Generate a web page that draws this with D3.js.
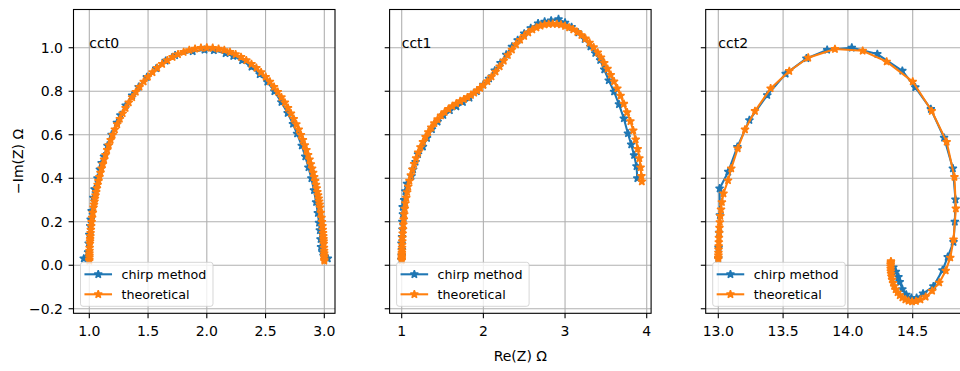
<!DOCTYPE html>
<html>
<head>
<meta charset="utf-8">
<script src="https://cdn.jsdelivr.net/npm/d3@7"></script>
<style>
  html, body { margin: 0; padding: 0; background: #ffffff; }
  svg { display: block; font-family: "DejaVu Sans", sans-serif; }
</style>
</head>
<body>
<svg id="chart" width="960" height="371"></svg>
<script>
// ---- chart content ----
const circuits = ["cct0", "cct1", "cct2"];
const seriesNames = ["chirp method", "theoretical"];
const xAxisLabel = "Re(Z) Ω";
const yAxisLabel = "−Im(Z) Ω";

// circuit name placed at (re, im)
const annotationRe = [1.0, 1.0, 13.0];
const annotationIm = [1.0, 1.0, 1.0];

const yTicks = [-0.2, 0.0, 0.2, 0.4, 0.6, 0.8, 1.0];
const yTickLabels = ["−0.2", "0.0", "0.2", "0.4", "0.6", "0.8", "1.0"];

const cct0XTicks = [1.0, 1.5, 2.0, 2.5, 3.0];
const cct0XTickLabels = ["1.0", "1.5", "2.0", "2.5", "3.0"];
const cct1XTicks = [1, 2, 3, 4];
const cct1XTickLabels = ["1", "2", "3", "4"];
const cct2XTicks = [13.0, 13.5, 14.0, 14.5];
const cct2XTickLabels = ["13.0", "13.5", "14.0", "14.5"];

// ---- cct0 ----
const cct0ChirpRe = [0.953,0.990,0.995,1.000,1.008,1.012,1.020,1.035,1.045,1.070,1.090,1.105,1.125,1.155,1.190,1.235,1.265,1.310,1.365,1.420,1.490,1.570,1.650,1.730,1.880,1.980,2.060,2.160,2.225,2.300,2.380,2.450,2.515,2.575,2.635,2.688,2.733,2.768,2.808,2.838,2.865,2.890,2.912,2.930,2.945,2.955,2.962,2.968,2.972,2.985,2.995,3.030];
const cct0ChirpIm = [0.031,0.060,0.100,0.140,0.180,0.210,0.250,0.310,0.350,0.400,0.440,0.470,0.500,0.550,0.600,0.655,0.690,0.735,0.780,0.820,0.865,0.905,0.940,0.965,0.983,0.990,0.988,0.974,0.962,0.942,0.912,0.878,0.843,0.800,0.750,0.700,0.650,0.605,0.550,0.500,0.450,0.400,0.345,0.290,0.240,0.195,0.161,0.120,0.084,0.060,0.045,0.031];

const cct0TheoryRe = [1.000,1.000,1.001,1.001,1.001,1.002,1.003,1.005,1.006,1.007,1.009,1.011,1.013,1.016,1.020,1.024,1.030,
  1.036,1.040,1.044,1.048,1.053,1.059,1.065,1.071,1.078,1.086,1.095,1.104,1.115,1.126,1.138,1.152,1.166,1.182,1.199,1.218,
  1.238,1.260,1.284,1.309,1.336,1.365,1.396,1.428,1.463,1.499,1.538,1.578,1.620,1.664,1.709,1.755,1.803,1.851,1.900,1.950,
  2.000,
  2.050,2.100,2.149,2.197,2.245,2.291,2.336,2.380,2.422,2.462,2.501,2.537,2.572,2.604,2.635,2.664,2.691,2.716,2.740,2.762,
  2.782,2.801,2.818,2.834,2.848,2.862,2.874,2.885,2.896,2.905,2.914,2.922,2.929,2.935,2.941,2.947,2.952,2.956,2.960,2.964,
  2.970,2.976,2.980,2.984,2.987,2.989,2.991,2.993,2.994,2.995,2.997,2.998,2.999,2.999,2.999,3.000,3.000];
const cct0TheoryIm = [0.020,0.027,0.037,0.045,0.055,0.067,0.081,0.099,0.110,0.121,0.134,0.148,0.163,0.180,0.199,0.219,0.241,
  0.266,0.279,0.293,0.307,0.322,0.337,0.354,0.370,0.388,0.406,0.425,0.445,0.465,0.486,0.507,0.530,0.552,0.576,0.599,0.624,
  0.648,0.673,0.698,0.723,0.748,0.772,0.797,0.820,0.844,0.866,0.887,0.907,0.925,0.942,0.957,0.970,0.980,0.989,0.995,0.999,
  1.000,
  0.999,0.995,0.989,0.980,0.970,0.957,0.942,0.925,0.907,0.887,0.866,0.844,0.820,0.797,0.772,0.748,0.723,0.698,0.673,0.648,
  0.624,0.599,0.576,0.552,0.530,0.507,0.486,0.465,0.445,0.425,0.406,0.388,0.370,0.354,0.337,0.322,0.307,0.293,0.279,0.266,
  0.241,0.219,0.199,0.180,0.163,0.148,0.134,0.121,0.110,0.099,0.081,0.067,0.055,0.045,0.037,0.027,0.020];

// ---- cct1 ----
const cct1ChirpRe = [0.995,1.000,1.002,0.998,1.004,1.010,1.008,1.015,1.012,1.030,1.045,1.065,1.120,1.140,1.170,1.200,1.260,1.310,1.370,1.440,
  1.510,1.590,1.670,1.750,1.830,1.920,2.000,2.070,2.140,2.210,2.280,2.350,2.420,2.500,2.580,2.670,2.750,2.830,2.920,3.000,
  3.080,3.160,3.240,3.310,3.370,3.430,3.480,3.535,3.600,3.660,3.720,3.770,3.810,3.845,3.875,3.885];
const cct1ChirpIm = [0.025,0.045,0.070,0.100,0.130,0.165,0.200,0.235,0.268,0.300,0.340,0.375,0.410,0.440,0.475,0.510,0.545,0.585,0.625,0.660,
  0.690,0.712,0.730,0.750,0.770,0.800,0.830,0.858,0.895,0.930,0.968,1.005,1.035,1.065,1.090,1.112,1.120,1.125,1.131,1.115,
  1.095,1.070,1.040,1.005,0.975,0.943,0.900,0.850,0.798,0.740,0.675,0.606,0.555,0.506,0.455,0.400];

const cct1TheoryRe = [1.000,1.000,1.001,1.001,1.001,1.002,1.003,1.004,1.005,1.007,1.009,1.012,1.016,1.020,1.025,1.031,
  1.038,1.046,1.056,1.067,1.080,1.095,1.112,1.131,1.152,1.176,1.202,1.230,1.260,1.292,1.326,1.362,1.400,1.440,1.482,1.526,
  1.572,1.620,1.668,1.716,1.762,1.806,1.848,1.888,1.926,1.962,
  2.000,2.050,2.100,2.150,2.200,2.250,2.300,2.350,2.400,2.450,2.500,2.550,2.600,2.650,2.700,2.750,2.800,2.850,2.900,2.950,
  3.000,3.050,3.100,3.150,3.200,3.250,3.300,3.350,3.400,
  3.440,3.480,3.520,3.560,3.600,3.640,3.680,3.720,3.760,3.800,
  3.835,3.865,3.890,3.910,3.925,3.935,3.940];
const cct1TheoryIm = [0.022,0.027,0.033,0.040,0.048,0.057,0.068,0.080,0.094,0.110,0.127,0.146,0.166,0.188,0.211,0.235,
  0.260,0.285,0.310,0.336,0.362,0.388,0.414,0.440,0.466,0.492,0.518,0.543,0.567,0.590,0.612,0.633,0.653,0.671,0.688,0.704,
  0.718,0.731,0.743,0.754,0.763,0.772,0.782,0.793,0.803,0.815,
  0.828,0.846,0.867,0.890,0.914,0.940,0.966,0.991,1.015,1.036,1.054,1.070,1.083,1.093,1.101,1.106,1.109,1.110,1.109,1.106,
  1.100,1.093,1.084,1.072,1.058,1.042,1.023,1.002,0.978,
  0.955,0.930,0.903,0.875,0.845,0.813,0.779,0.742,0.703,0.662,
  0.620,0.578,0.535,0.492,0.450,0.410,0.385];

// ---- cct2 ----
const cct2ChirpRe = [13.000,13.002,13.006,13.012,13.010,13.077,13.147,13.240,13.378,13.520,13.680,13.840,14.030,14.227,14.420,
  14.520,14.640,14.742,14.810,14.830,14.825,14.815,14.770,14.730,14.660,14.580,14.530,14.490,14.450,14.420,14.400,14.390,14.370,14.350];
const cct2ChirpIm = [0.032,0.080,0.150,0.230,0.353,0.430,0.544,0.667,0.782,0.880,0.951,0.990,1.000,0.971,0.894,
  0.818,0.718,0.586,0.445,0.302,0.200,0.107,0.038,-0.023,-0.097,-0.130,-0.150,-0.150,-0.135,-0.110,-0.077,-0.054,-0.030,-0.010];

const cct2TheoryRe = [13.000,13.000,13.001,13.001,13.002,13.003,13.004,13.005,13.007,13.009,13.012,13.016,13.021,13.028,13.040,
  13.075,13.100,13.150,13.206,13.283,13.404,13.548,13.694,13.900,14.114,14.299,14.500,14.647,14.762,14.822,14.833,14.815,
  14.790,14.755,14.705,14.650,14.600,14.560,14.525,14.495,14.468,14.443,14.420,14.400,14.383,14.368,14.357,14.348,14.341,
  14.336,14.333,14.331,14.330,14.330,14.330,14.331,14.332];
const cct2TheoryIm = [0.028,0.036,0.046,0.058,0.072,0.088,0.106,0.126,0.148,0.172,0.198,0.226,0.256,0.290,0.330,
  0.390,0.445,0.537,0.624,0.709,0.813,0.893,0.954,0.994,0.986,0.936,0.844,0.709,0.567,0.406,0.261,0.118,
  0.035,-0.025,-0.080,-0.118,-0.145,-0.158,-0.165,-0.167,-0.164,-0.158,-0.149,-0.138,-0.125,-0.111,-0.096,-0.081,-0.066,
  -0.052,-0.039,-0.027,-0.016,-0.006,0.003,0.011,0.018];

// ---- layout ----
const colors = ["#1f77b4", "#ff7f0e"];
const plotTop = 9.5, plotBottom = 313.3, plotWidth = 261.5;
const panels = [
  { left: 73.5,  xDomain: [0.8655, 3.091],   xTicks: cct0XTicks, xLabels: cct0XTickLabels,
    series: [[cct0ChirpRe, cct0ChirpIm], [cct0TheoryRe, cct0TheoryIm]] },
  { left: 389.6, xDomain: [0.8518, 4.0537],  xTicks: cct1XTicks, xLabels: cct1XTickLabels,
    series: [[cct1ChirpRe, cct1ChirpIm], [cct1TheoryRe, cct1TheoryIm]] },
  { left: 705.7, xDomain: [12.9028, 14.9205], xTicks: cct2XTicks, xLabels: cct2XTickLabels,
    series: [[cct2ChirpRe, cct2ChirpIm], [cct2TheoryRe, cct2TheoryIm]] }
];

const svg = d3.select("#chart");
const defs = svg.append("defs");
const y = d3.scaleLinear().domain([-0.2209, 1.1758]).range([plotBottom, plotTop]);
const starPath = d3.symbol().type(d3.symbolStar).size(19.5)();
const tickLen = 4.9;

panels.forEach((p, i) => {
  const x = d3.scaleLinear().domain(p.xDomain).range([p.left, p.left + plotWidth]);
  const g = svg.append("g");
  const clipId = "plot-clip-" + i;
  defs.append("clipPath").attr("id", clipId)
    .append("rect").attr("x", p.left).attr("y", plotTop)
    .attr("width", plotWidth).attr("height", plotBottom - plotTop);

  // grid
  const grid = g.append("g").attr("stroke", "#b0b0b0").attr("stroke-width", 1.1);
  grid.selectAll("line.gx").data(p.xTicks).join("line").attr("class", "gx")
    .attr("x1", d => x(d)).attr("x2", d => x(d)).attr("y1", plotTop).attr("y2", plotBottom);
  grid.selectAll("line.gy").data(yTicks).join("line").attr("class", "gy")
    .attr("x1", p.left).attr("x2", p.left + plotWidth).attr("y1", d => y(d)).attr("y2", d => y(d));

  // series: line then star markers
  p.series.forEach(([re, im], k) => {
    const pts = re.map((v, j) => [v, im[j]]);
    const sg = g.append("g").attr("clip-path", `url(#${clipId})`);
    sg.append("path")
      .attr("d", d3.line().x(d => x(d[0])).y(d => y(d[1]))(pts))
      .attr("fill", "none").attr("stroke", colors[k]).attr("stroke-width", 2.08)
      .attr("stroke-linejoin", "round").attr("stroke-linecap", "square");
    sg.selectAll("path.marker").data(pts).join("path").attr("class", "marker")
      .attr("d", starPath)
      .attr("transform", d => `translate(${x(d[0])},${y(d[1])})`)
      .attr("fill", colors[k]).attr("stroke", colors[k])
      .attr("stroke-width", 1.39).attr("stroke-linejoin", "bevel");
  });

  // circuit name
  g.append("text").attr("x", x(annotationRe[i])).attr("y", y(annotationIm[i]))
    .attr("font-size", 14).attr("fill", "#000").text(circuits[i]);

  // frame
  g.append("rect").attr("x", p.left).attr("y", plotTop)
    .attr("width", plotWidth).attr("height", plotBottom - plotTop)
    .attr("fill", "none").attr("stroke", "#000").attr("stroke-width", 1.1);

  // x ticks
  const xt = g.append("g");
  xt.selectAll("line").data(p.xTicks).join("line")
    .attr("x1", d => x(d)).attr("x2", d => x(d))
    .attr("y1", plotBottom).attr("y2", plotBottom + tickLen)
    .attr("stroke", "#000").attr("stroke-width", 1.1);
  xt.selectAll("text").data(p.xTicks).join("text")
    .attr("x", d => x(d)).attr("y", 336).attr("text-anchor", "middle")
    .attr("font-size", 14).attr("fill", "#000")
    .text((d, j) => p.xLabels[j]);

  // y ticks (labels on the first panel only)
  const yt = g.append("g");
  yt.selectAll("line").data(yTicks).join("line")
    .attr("x1", p.left - tickLen).attr("x2", p.left)
    .attr("y1", d => y(d)).attr("y2", d => y(d))
    .attr("stroke", "#000").attr("stroke-width", 1.1);
  if (i === 0) {
    yt.selectAll("text").data(yTicks).join("text")
      .attr("x", p.left - 10.5).attr("y", d => y(d)).attr("dy", "0.36em")
      .attr("text-anchor", "end").attr("font-size", 14).attr("fill", "#000")
      .text((d, j) => yTickLabels[j]);
  }

  // legend
  const lx = p.left + 7, ly = plotBottom - 7 - 44;
  const lg = g.append("g");
  lg.append("rect").attr("x", lx).attr("y", ly).attr("width", 132.5).attr("height", 44)
    .attr("rx", 2.5).attr("ry", 2.5)
    .attr("fill", "#fff").attr("fill-opacity", 0.8)
    .attr("stroke", "#cccccc").attr("stroke-opacity", 0.8).attr("stroke-width", 1);
  seriesNames.forEach((name, k) => {
    const cy = ly + 12 + 20 * k;
    lg.append("line").attr("x1", lx + 5).attr("x2", lx + 30.5).attr("y1", cy).attr("y2", cy)
      .attr("stroke", colors[k]).attr("stroke-width", 2.08).attr("stroke-linecap", "square");
    lg.append("path").attr("d", starPath).attr("transform", `translate(${lx + 17.75},${cy})`)
      .attr("fill", colors[k]).attr("stroke", colors[k]).attr("stroke-width", 1.39)
      .attr("stroke-linejoin", "bevel");
    lg.append("text").attr("x", lx + 41).attr("y", cy).attr("dy", "0.36em")
      .attr("font-size", 12.7).attr("fill", "#000").text(name);
  });
});

// axis titles
svg.append("text").attr("x", panels[1].left + plotWidth / 2).attr("y", 360.5)
  .attr("text-anchor", "middle").attr("font-size", 14).attr("fill", "#000").text(xAxisLabel);
svg.append("text").attr("transform", `translate(22.5,${(plotTop + plotBottom) / 2}) rotate(-90)`)
  .attr("text-anchor", "middle").attr("font-size", 14).attr("fill", "#000").text(yAxisLabel);
</script>
</body>
</html>
